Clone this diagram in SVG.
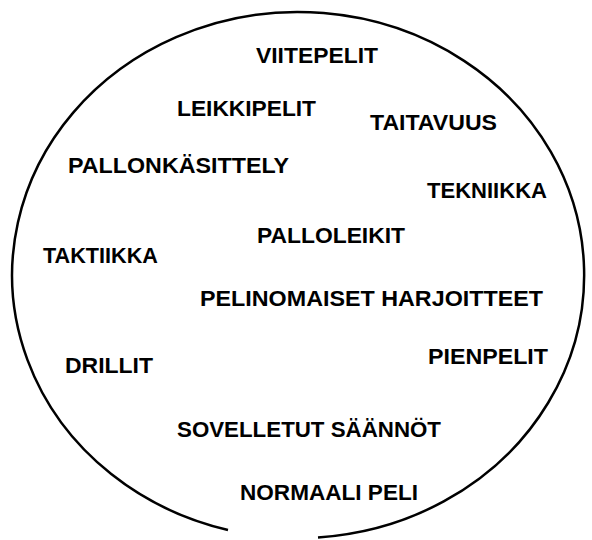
<svg xmlns="http://www.w3.org/2000/svg" width="592" height="540" viewBox="0 0 592 540">
<style>
.lbl{font-family:"Liberation Sans",Arial,sans-serif;font-weight:bold;font-size:22px;fill:#000}
.ring{fill:none;stroke:#000;stroke-width:2.5}
</style>
<rect width="592" height="540" fill="#fff"/>
<g id="outline"><path class="ring" d="M 228,530 A 286 263 0 1 1 318,537.4"/></g>
<g id="connectors"></g>
<g id="n1"><text class="lbl" x="256" y="63" textLength="122" lengthAdjust="spacingAndGlyphs">VIITEPELIT</text></g>
<g id="n2"><text class="lbl" x="177" y="116" textLength="139" lengthAdjust="spacingAndGlyphs">LEIKKIPELIT</text></g>
<g id="n3"><text class="lbl" x="370" y="130" textLength="127" lengthAdjust="spacingAndGlyphs">TAITAVUUS</text></g>
<g id="n4"><text class="lbl" x="68" y="173" textLength="221" lengthAdjust="spacingAndGlyphs">PALLONKÄSITTELY</text></g>
<g id="n5"><text class="lbl" x="427" y="198" textLength="120" lengthAdjust="spacingAndGlyphs">TEKNIIKKA</text></g>
<g id="n6"><text class="lbl" x="257" y="243" textLength="148" lengthAdjust="spacingAndGlyphs">PALLOLEIKIT</text></g>
<g id="n7"><text class="lbl" x="43" y="263" textLength="115" lengthAdjust="spacingAndGlyphs">TAKTIIKKA</text></g>
<g id="n8"><text class="lbl" x="200" y="306" textLength="343" lengthAdjust="spacingAndGlyphs">PELINOMAISET HARJOITTEET</text></g>
<g id="n9"><text class="lbl" x="428" y="364" textLength="120" lengthAdjust="spacingAndGlyphs">PIENPELIT</text></g>
<g id="n10"><text class="lbl" x="65" y="373" textLength="88" lengthAdjust="spacingAndGlyphs">DRILLIT</text></g>
<g id="n11"><text class="lbl" x="177" y="437" textLength="264" lengthAdjust="spacingAndGlyphs">SOVELLETUT SÄÄNNÖT</text></g>
<g id="n12"><text class="lbl" x="240" y="500" textLength="178" lengthAdjust="spacingAndGlyphs">NORMAALI PELI</text></g>
</svg>
